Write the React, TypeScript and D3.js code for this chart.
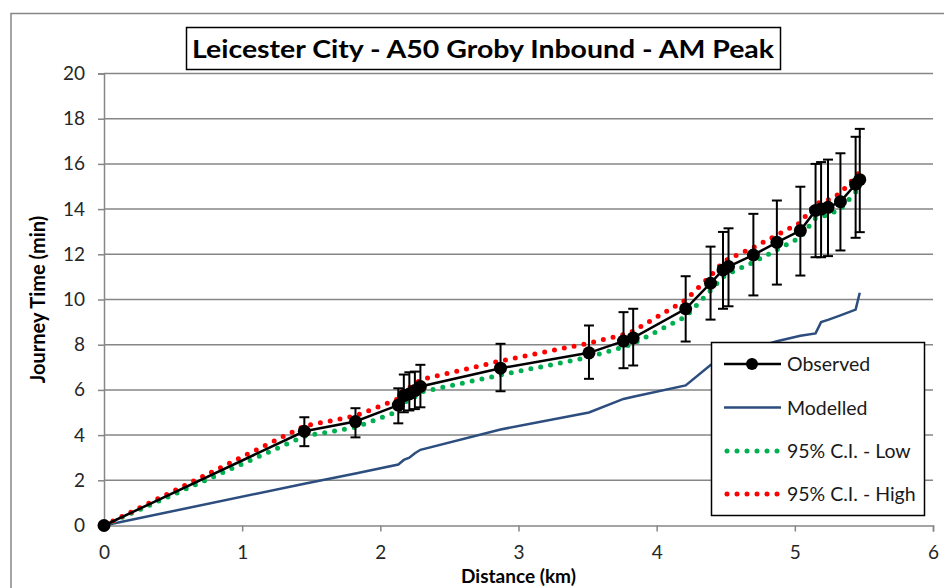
import React, { useEffect, useRef } from 'react'
import * as d3 from 'd3'

// observed journey time points (km, min) with 95% error bar limits
const obsDist = [0, 1.45, 1.82, 2.13, 2.17, 2.21, 2.25, 2.29, 2.87, 3.51, 3.76, 3.83, 4.21, 4.39, 4.48, 4.52, 4.7, 4.87, 5.04, 5.15, 5.19, 5.24, 5.33, 5.44, 5.47]
const obsTime = [0, 4.17, 4.6, 5.33, 5.75, 5.82, 5.97, 6.15, 6.96, 7.64, 8.16, 8.3, 9.59, 10.72, 11.31, 11.46, 11.97, 12.53, 13.05, 13.94, 14.0, 14.08, 14.33, 15.1, 15.3]
const errHigh = [0, 4.79, 5.19, 6.07, 6.68, 6.78, 6.81, 7.11, 8.04, 8.85, 9.44, 9.59, 11.03, 12.34, 12.99, 13.15, 13.79, 14.38, 14.99, 16.0, 16.08, 16.19, 16.47, 17.2, 17.55]
const errLow = [0, 3.51, 3.9, 4.52, 5.01, 5.09, 5.15, 5.23, 5.94, 6.49, 6.96, 7.08, 8.14, 9.11, 9.59, 9.7, 10.18, 10.66, 11.06, 11.87, 11.87, 11.92, 12.17, 12.73, 12.98]

// confidence interval lines
const ciLow = [0, 3.95, 4.35, 5.05, 5.45, 5.55, 5.7, 5.9, 6.66, 7.45, 7.9, 8.05, 9.24, 10.4, 11.0, 11.15, 11.65, 12.2, 12.75, 13.6, 13.65, 13.75, 14.0, 14.75, 14.95]
const ciHigh = [0, 4.4, 4.85, 5.6, 6.05, 6.1, 6.25, 6.45, 7.28, 8.07, 8.45, 8.6, 9.98, 11.05, 11.65, 11.8, 12.3, 12.85, 13.4, 14.25, 14.3, 14.4, 14.7, 15.45, 15.65]

// modelled journey time
const modTime = [0, 1.85, 2.3, 2.7, 2.9, 3.0, 3.2, 3.35, 4.25, 5.0, 5.6, 5.7, 6.2, 7.1, 7.4, 7.55, 7.85, 8.15, 8.4, 8.5, 9.0, 9.1, 9.3, 9.55, 10.3]

const xTicks = [0, 1, 2, 3, 4, 5, 6]
const yTicks = [0, 2, 4, 6, 8, 10, 12, 14, 16, 18, 20]

const title = 'Leicester City - A50 Groby Inbound - AM Peak'
const legendItems = ['Observed', 'Modelled', '95% C.I. - Low', '95% C.I. - High']

const font = 'Lato, "Open Sans", sans-serif'

const App: React.FC = () => {
  const ref = useRef<SVGSVGElement>(null)

  useEffect(() => {
    const svg = d3.select(ref.current)
    svg.selectAll('*').remove()

    const x = d3.scaleLinear().domain([0, 6]).range([104, 933])
    const y = d3.scaleLinear().domain([0, 20]).range([525.5, 73.5])
    const grey = '#868686'

    // chart frame
    svg.append('path')
      .attr('d', 'M11,600 L11,13.5 L960,13.5')
      .attr('fill', 'none')
      .attr('stroke', grey)
      .attr('stroke-width', 1.5)

    // gridlines
    svg.append('g')
      .selectAll('line')
      .data(yTicks.filter((t) => t > 0))
      .join('line')
      .attr('x1', x(0))
      .attr('x2', x(6))
      .attr('y1', (d) => y(d))
      .attr('y2', (d) => y(d))
      .attr('stroke', grey)
      .attr('stroke-width', 1.5)

    // y axis
    const yAxis = svg.append('g')
      .attr('transform', `translate(${x(0)},0)`)
      .call(d3.axisLeft(y).tickValues(yTicks).tickSize(6).tickPadding(13))
    yAxis.select('.domain').attr('stroke', grey).attr('stroke-width', 1.5)
    yAxis.selectAll('.tick line').attr('stroke', grey).attr('stroke-width', 1.5)
    yAxis.selectAll('.tick text')
      .attr('font-family', font)
      .attr('font-size', 19)
      .attr('fill', '#262626')

    // x axis
    const xAxis = svg.append('g')
      .attr('transform', `translate(0,${y(0)})`)
      .call(d3.axisBottom(x).tickValues(xTicks).tickFormat(d3.format('d')).tickSize(6).tickPadding(14))
    xAxis.select('.domain').attr('stroke', grey).attr('stroke-width', 1.5)
    xAxis.selectAll('.tick line').attr('stroke', grey).attr('stroke-width', 1.5)
    xAxis.selectAll('.tick text')
      .attr('font-family', font)
      .attr('font-size', 19)
      .attr('fill', '#262626')

    // axis titles
    svg.append('text')
      .attr('transform', `translate(45,${(y(0) + y(20)) / 2}) rotate(-90)`)
      .attr('text-anchor', 'middle')
      .attr('font-family', font)
      .attr('font-weight', 'bold')
      .attr('font-size', 20)
      .text('Journey Time (min)')

    svg.append('text')
      .attr('x', (x(0) + x(6)) / 2)
      .attr('y', 583)
      .attr('text-anchor', 'middle')
      .attr('font-family', font)
      .attr('font-weight', 'bold')
      .attr('font-size', 19)
      .text('Distance (km)')

    const line = (vals: number[]) =>
      d3.line<number>().x((_, i) => x(obsDist[i])).y((d) => y(d))(vals)

    // modelled
    svg.append('path')
      .attr('d', line(modTime))
      .attr('fill', 'none')
      .attr('stroke', '#2c4d7e')
      .attr('stroke-width', 2.5)

    // CI lines
    const dotted = (vals: number[], color: string) =>
      svg.append('path')
        .attr('d', line(vals))
        .attr('fill', 'none')
        .attr('stroke', color)
        .attr('stroke-width', 5)
        .attr('stroke-linecap', 'round')
        .attr('stroke-dasharray', '0 10')
    dotted(ciLow, '#00b050')
    dotted(ciHigh, '#ff0000')

    // observed
    svg.append('path')
      .attr('d', line(obsTime))
      .attr('fill', 'none')
      .attr('stroke', '#000')
      .attr('stroke-width', 2.5)

    // error bars
    const eb = svg.append('g').attr('stroke', '#000').attr('stroke-width', 2)
    obsDist.forEach((d, i) => {
      if (errHigh[i] === errLow[i]) return
      const cx = x(d)
      eb.append('line').attr('x1', cx).attr('x2', cx).attr('y1', y(errHigh[i])).attr('y2', y(errLow[i]))
      eb.append('line').attr('x1', cx - 5).attr('x2', cx + 5).attr('y1', y(errHigh[i])).attr('y2', y(errHigh[i]))
      eb.append('line').attr('x1', cx - 5).attr('x2', cx + 5).attr('y1', y(errLow[i])).attr('y2', y(errLow[i]))
    })

    svg.append('g')
      .selectAll('circle')
      .data(obsTime)
      .join('circle')
      .attr('cx', (_, i) => x(obsDist[i]))
      .attr('cy', (d) => y(d))
      .attr('r', 6.5)
      .attr('fill', '#000')

    // title
    svg.append('rect')
      .attr('x', 186.5)
      .attr('y', 27.5)
      .attr('width', 594)
      .attr('height', 42)
      .attr('fill', '#fff')
      .attr('stroke', '#000')
      .attr('stroke-width', 1.5)
    svg.append('text')
      .attr('x', 483)
      .attr('y', 58)
      .attr('text-anchor', 'middle')
      .attr('font-family', font)
      .attr('font-weight', 'bold')
      .attr('font-size', 24)
      .attr('textLength', 582)
      .attr('lengthAdjust', 'spacingAndGlyphs')
      .text(title)

    // legend
    const lg = svg.append('g')
    lg.append('rect')
      .attr('x', 711.5)
      .attr('y', 342.5)
      .attr('width', 213)
      .attr('height', 173)
      .attr('fill', '#fff')
      .attr('stroke', '#000')
      .attr('stroke-width', 1.5)
    const rowY = [364, 407.5, 451, 494]
    const styles = [
      { c: '#000', w: 2.5, dash: null },
      { c: '#2c4d7e', w: 2.5, dash: null },
      { c: '#00b050', w: 5, dash: '0 10' },
      { c: '#ff0000', w: 5, dash: '0 10' },
    ]
    legendItems.forEach((name, i) => {
      const s = styles[i]
      const l = lg.append('line')
        .attr('x1', s.dash ? 727 : 724)
        .attr('x2', 781)
        .attr('y1', rowY[i])
        .attr('y2', rowY[i])
        .attr('stroke', s.c)
        .attr('stroke-width', s.w)
      if (s.dash) l.attr('stroke-dasharray', s.dash).attr('stroke-linecap', 'round')
      if (i === 0) lg.append('circle').attr('cx', 752).attr('cy', rowY[i]).attr('r', 6).attr('fill', '#000')
      lg.append('text')
        .attr('x', 787)
        .attr('y', rowY[i] + 7)
        .attr('font-family', font)
        .attr('font-size', 19.5)
        .attr('fill', '#1a1a1a')
        .text(name)
    })
  }, [])

  return (
    <svg
      ref={ref}
      width={944}
      height={588}
      style={{ position: 'absolute', left: 0, top: 0, background: '#fff' }}
    />
  )
}

export default App
